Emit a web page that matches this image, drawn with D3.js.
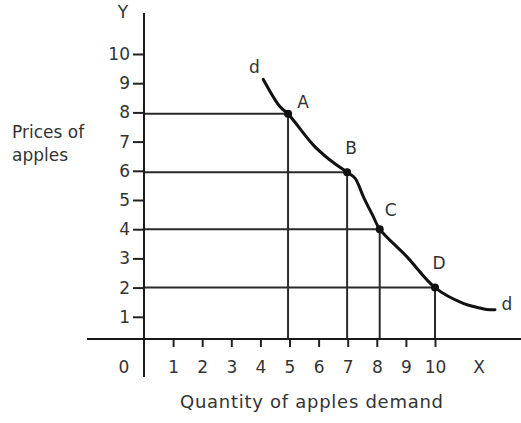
<!DOCTYPE html>
<html>
<head>
<meta charset="utf-8">
<style>
  body { margin: 0; background: #fff; }
  text { font-family: "DejaVu Sans", sans-serif; fill: #333; }
</style>
</head>
<body>
<div id="chart"></div>
<script src="https://cdn.jsdelivr.net/npm/d3@7"></script>
<script>
// tick values on both axes
const xTicks = [1, 2, 3, 4, 5, 6, 7, 8, 9, 10];
const yTicks = [1, 2, 3, 4, 5, 6, 7, 8, 9, 10];

// marked points on the demand curve
const pointNames = ["A", "B", "C", "D"];
const pointQty = [4.95, 6.98, 8.1, 10];
const pointPrice = [7.95, 5.95, 4, 2];

// demand curve d-d
const curveQty = [4.1, 4.67, 4.95, 5.82, 6.39, 6.98, 7.25, 7.54, 7.88, 8.1, 9.03, 10, 10.97, 11.5, 11.78, 12.06];
const curvePrice = [9.13, 8.2, 7.95, 6.88, 6.37, 5.95, 5.75, 5.11, 4.43, 4, 3.06, 2, 1.46, 1.31, 1.25, 1.24];

width = 521
height = 423
baseline = 339   // where the horizontal axis is drawn

x = d3.scaleLinear().domain([0, 10]).range([144, 435])
y = d3.scaleLinear().domain([0, 10]).range([346, 54])

svg = d3.select("#chart")
  .append("svg")
    .attr("width", width)
    .attr("height", height);

// guide lines from the axes to each point
const pts = pointNames.map((n, i) => ({name: n, q: pointQty[i], p: pointPrice[i]}));

svg.append("g")
    .attr("stroke", "#2a2a2a")
    .attr("stroke-width", 2)
  .selectAll("line.h")
  .data(pts)
  .join("line")
    .attr("x1", x(0))
    .attr("x2", d => x(d.q))
    .attr("y1", d => y(d.p))
    .attr("y2", d => y(d.p));

svg.append("g")
    .attr("stroke", "#2a2a2a")
    .attr("stroke-width", 2)
  .selectAll("line.v")
  .data(pts)
  .join("line")
    .attr("x1", d => x(d.q))
    .attr("x2", d => x(d.q))
    .attr("y1", d => y(d.p))
    .attr("y2", baseline);

// y axis
yAxis = svg.append("g")
    .attr("transform", `translate(${x(0)},0)`)
    .call(d3.axisLeft(y).tickValues(yTicks).tickSize(11).tickPadding(3).tickFormat(d3.format("d")))
    .call(g => g.select(".domain").remove());

// x axis
xAxis = svg.append("g")
    .attr("transform", `translate(0,${baseline})`)
    .call(d3.axisBottom(x).tickValues(xTicks).tickSize(8).tickPadding(14).tickFormat(d3.format("d")))
    .call(g => g.select(".domain").remove());

svg.selectAll(".tick line").attr("stroke", "#222").attr("stroke-width", 2);
svg.selectAll(".tick text")
    .attr("fill", "#333")
    .style("font-family", "'DejaVu Sans', sans-serif")
    .style("font-size", "17px");

// axis lines
svg.append("line")
    .attr("x1", x(0)).attr("x2", x(0))
    .attr("y1", 13).attr("y2", 377)
    .attr("stroke", "#1a1a1a").attr("stroke-width", 2);
svg.append("line")
    .attr("x1", 87).attr("x2", width)
    .attr("y1", baseline).attr("y2", baseline)
    .attr("stroke", "#1a1a1a").attr("stroke-width", 2);

// demand curve
const curve = curveQty.map((q, i) => [q, curvePrice[i]]);
line = d3.line()
    .x(d => x(d[0]))
    .y(d => y(d[1]))
    .curve(d3.curveCatmullRom.alpha(0.5));

svg.append("path")
    .datum(curve)
    .attr("fill", "none")
    .attr("stroke", "#111")
    .attr("stroke-width", 3)
    .attr("stroke-linecap", "round")
    .attr("d", line);

svg.append("g")
  .selectAll("circle")
  .data(pts)
  .join("circle")
    .attr("cx", d => x(d.q))
    .attr("cy", d => y(d.p))
    .attr("r", 4)
    .attr("fill", "#111");

// point letters
const off = {A: [15, -12], B: [4, -24], C: [11, -19], D: [4, -25]};
svg.append("g")
  .selectAll("text")
  .data(pts)
  .join("text")
    .attr("x", d => x(d.q) + off[d.name][0])
    .attr("y", d => y(d.p) + off[d.name][1])
    .attr("dy", "0.35em")
    .attr("text-anchor", "middle")
    .style("font-size", "17px")
    .text(d => d.name);

// d labels at both ends of the curve
const first = curve[0], last = curve[curve.length - 1];
svg.append("text")
    .attr("x", x(first[0]) - 9).attr("y", y(first[1]) - 12)
    .attr("dy", "0.35em").attr("text-anchor", "middle")
    .style("font-size", "17px").text("d");
svg.append("text")
    .attr("x", x(last[0]) + 12).attr("y", y(last[1]) - 6)
    .attr("dy", "0.35em").attr("text-anchor", "middle")
    .style("font-size", "17px").text("d");

// axis letters and origin
svg.append("text").attr("x", 123).attr("y", 12).attr("dy", "0.35em")
    .attr("text-anchor", "middle").style("font-size", "17px").text("Y");
svg.append("text").attr("x", 479).attr("y", 367).attr("dy", "0.35em")
    .attr("text-anchor", "middle").style("font-size", "17px").text("X");
svg.append("text").attr("x", 124).attr("y", 367).attr("dy", "0.35em")
    .attr("text-anchor", "middle").style("font-size", "17px").text("0");

// titles
svg.append("text")
    .attr("x", 180).attr("y", 402).attr("dy", "0.35em")
    .attr("textLength", 263).attr("lengthAdjust", "spacing")
    .style("font-size", "18px")
    .text("Quantity of apples demand");

svg.append("text")
    .attr("x", 12).attr("y", 132).attr("dy", "0.35em")
    .style("font-size", "17px")
    .text("Prices of");
svg.append("text")
    .attr("x", 12).attr("y", 155).attr("dy", "0.35em")
    .style("font-size", "17px")
    .text("apples");
</script>
</body>
</html>
